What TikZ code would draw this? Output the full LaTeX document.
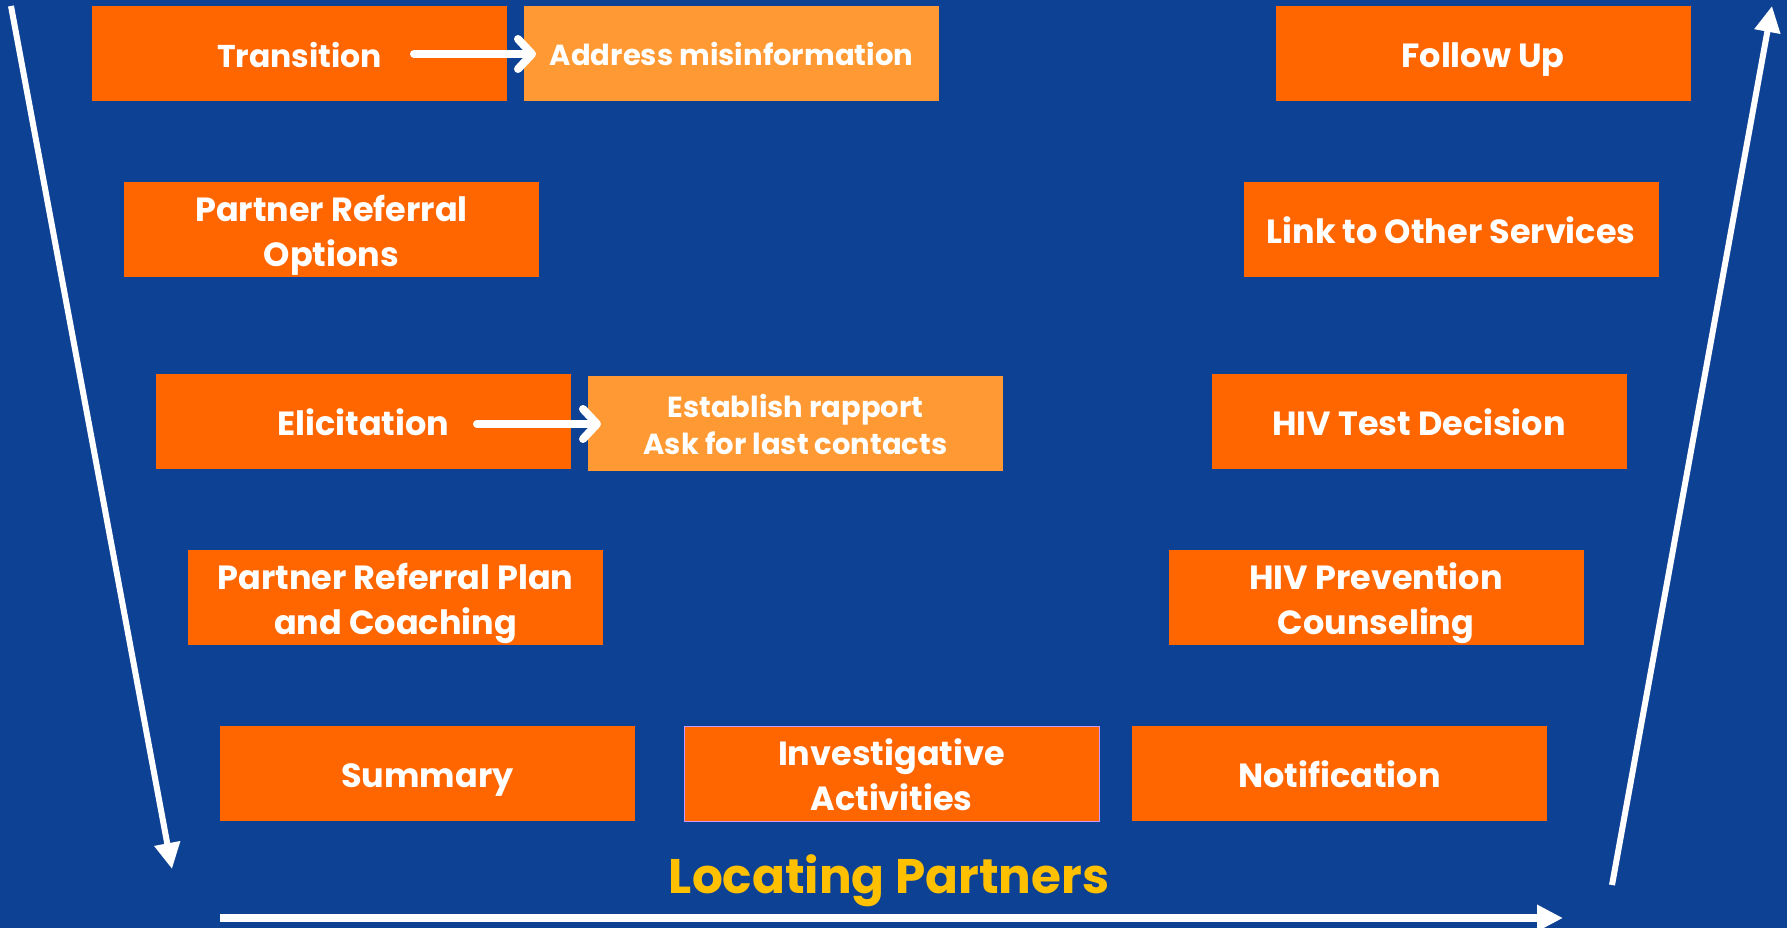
\documentclass[tikz,border=0pt]{standalone}
\usepackage{fontspec}
\setmainfont{Poppins}
\usetikzlibrary{arrows.meta}
\definecolor{bgblue}{RGB}{13,65,148}
\definecolor{orng}{RGB}{255,102,0}
\definecolor{lorng}{RGB}{255,153,51}
\definecolor{ylw}{RGB}{255,192,0}
\definecolor{lav}{RGB}{204,153,255}
\newcommand{\capline}[1]{\rule{0pt}{0.86em}\smash{#1}}
\tikzset{
  box/.style={rectangle, fill=orng, minimum width=415pt, minimum height=95pt,
    inner sep=0pt, text=white, align=center, font=\fontsize{33.5}{44.5}\selectfont\bfseries},
  lbox/.style={box, fill=lorng, font=\fontsize{29}{37.5}\selectfont\bfseries},
  bigarrow/.style={draw=white, line width=6pt, -{Triangle[length=26pt,width=25pt]}},
  smallarrow/.style={draw=white, line width=8pt, line cap=round, -{Straight Barb[length=14pt,width=30pt,round]}},
}
\begin{document}
\begin{tikzpicture}[x=1pt,y=-1pt]
\fill[bgblue] (0,0) rectangle (1787,928);
\useasboundingbox (0,0) rectangle (1787,928);
% left column
\node[box, font=\fontsize{31.5}{44.5}\selectfont\bfseries] (trans) at (299.5,53.5) {\capline{Transition}};
\node[lbox] (addr) at (731.5,53.5) {\capline{Address misinformation}};
\node[box] (pro) at (331.5,229.5) {\capline{Partner Referral}\\\capline{Options}};
\node[box] (elic) at (363.5,421) {\capline{Elicitation}};
\node[lbox] (estab) at (795.5,423.5) {\capline{Establish rapport}\\\capline{Ask for last contacts}};
\node[box] (prp) at (395.5,597.5) {\capline{Partner Referral Plan}\\\capline{and Coaching}};
\node[box] (summ) at (427.5,773.5) {\capline{Summary}};
\node[box, draw=lav, line width=1pt] (inv) at (891.5,773.5) {\capline{Investigative}\\\capline{Activities}};
\node[box] (notif) at (1339.5,773.5) {\capline{Notification}};
% right column
\node[box] (hpc) at (1376,597.5) {\capline{HIV Prevention}\\\capline{Counseling}};
\node[box] (htd) at (1419,421) {\capline{HIV Test Decision}};
\node[box] (link) at (1451,229.5) {\capline{Link to Other Services}};
\node[box] (fu) at (1483,53.5) {\capline{Follow Up}};
% title
\node[text=ylw, font=\fontsize{48.5}{56}\selectfont\bfseries, inner sep=0pt, anchor=base] (loc) at (889,893) {Locating Partners};
% small arrows
\coordinate (a1s) at (414,54);
\coordinate (a1e) at (536,54);
\draw[smallarrow] (a1s) -- (a1e);
\coordinate (a2s) at (477,424);
\coordinate (a2e) at (601,424);
\draw[smallarrow] (a2s) -- (a2e);
% big arrows
\coordinate (ls) at (11,6);
\coordinate (le) at (172,869);
\draw[bigarrow] (ls) -- (le);
\coordinate (bs) at (220,918);
\coordinate (be) at (1563,918);
\draw[bigarrow, line width=8pt] (bs) -- (be);
\coordinate (rs) at (1612,885);
\coordinate (re) at (1772,6);
\draw[bigarrow] (rs) -- (re);
\end{tikzpicture}
\end{document}
